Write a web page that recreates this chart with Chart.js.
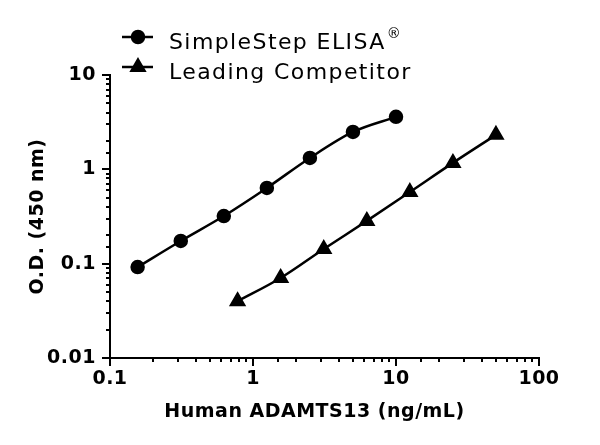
<!DOCTYPE html>
<html>
<head>
<meta charset="utf-8">
<script src="https://cdn.jsdelivr.net/npm/chart.js@4"></script>
<style>
html,body{margin:0;padding:0;background:#fff;}
#wrap{position:relative;width:600px;height:445px;}
</style>
</head>
<body>
<div id="wrap"><canvas id="c" width="600" height="445"></canvas></div>
<script>
// Data
const concSimpleStep = [0.156, 0.3125, 0.625, 1.25, 2.5, 5, 10];
const odSimpleStep   = [0.092, 0.174, 0.32, 0.635, 1.32, 2.49, 3.6];
const concCompetitor = [0.78, 1.56, 3.125, 6.25, 12.5, 25, 50];
const odCompetitor   = [0.040, 0.0705, 0.143, 0.284, 0.575, 1.17, 2.32];
const xTickLabels = ['0.1', '1', '10', '100'];
const yTickLabels = ['0.01', '0.1', '1', '10'];
const seriesNames = ['SimpleStep ELISA\u00AE', 'Leading Competitor'];
const xTitle = 'Human ADAMTS13 (ng/mL)';
const yTitle = 'O.D. (450 nm)';

const FONT = '"DejaVu Sans", sans-serif';

function toPoints(xs, ys){ return xs.map((x,i)=>({x:x, y:ys[i]})); }
function isMajor(v){ const l = Math.log10(v); return Math.abs(l - Math.round(l)) < 1e-6; }
function labelFor(list, v){
  const s = list.find(t => Math.abs(parseFloat(t) - v) < 1e-9 * Math.max(1, v));
  return s === undefined ? '' : s;
}

const spacingPlugin = {
  id: 'spacingPlugin',
  beforeDraw(chart){ chart.ctx.letterSpacing = '0.5px'; },
  afterDraw(chart){ chart.ctx.letterSpacing = '0px'; }
};

const axesPlugin = {
  id: 'axesPlugin',
  afterDraw(chart){
    const ctx = chart.ctx;
    const xs = chart.scales.x, ys = chart.scales.y;
    const ca = chart.chartArea;
    ctx.save();
    ctx.strokeStyle = '#000';
    ctx.lineWidth = 2;
    ctx.lineCap = 'butt';
    ctx.beginPath();
    ctx.moveTo(ca.left, ca.top - 1);
    ctx.lineTo(ca.left, ca.bottom);
    ctx.moveTo(ca.left, ca.bottom);
    ctx.lineTo(ca.right + 1, ca.bottom);
    ctx.stroke();
    ctx.beginPath();
    xs.ticks.forEach(t => {
      const px = Math.round(xs.getPixelForValue(t.value));
      const len = isMajor(t.value) ? 8 : 4;
      ctx.moveTo(px, ca.bottom);
      ctx.lineTo(px, ca.bottom + len);
    });
    ys.ticks.forEach(t => {
      const py = Math.round(ys.getPixelForValue(t.value));
      const len = isMajor(t.value) ? 8 : 4;
      ctx.moveTo(ca.left, py);
      ctx.lineTo(ca.left - len, py);
    });
    ctx.stroke();

    // x axis title (slightly left of the plot centre, as in the reference)
    ctx.fillStyle = '#000';
    ctx.letterSpacing = '0.5px';
    ctx.font = 'bold 19px ' + FONT;
    ctx.textAlign = 'center';
    ctx.textBaseline = 'middle';
    ctx.fillText(xTitle, (ca.left + ca.right) / 2 - 10, 412);

    // legend
    const ds = chart.data.datasets;
    const rowsY = [37, 67];
    ds.forEach((d, i) => {
      const y = rowsY[i];
      ctx.beginPath();
      ctx.lineWidth = 2.5;
      ctx.moveTo(122, y);
      ctx.lineTo(153, y);
      ctx.stroke();
      Chart.helpers.drawPoint(ctx, {pointStyle: d.pointStyle, radius: d.pointRadius, borderWidth: 1, rotation: 0}, 138, y);
      ctx.fillStyle = '#000';
      ctx.fill();
      ctx.letterSpacing = '1.4px';
      ctx.font = '22px ' + FONT;
      ctx.textBaseline = 'alphabetic';
      ctx.textAlign = 'left';
      const name = d.label;
      if (name.endsWith('\u00AE')) {
        const base = name.slice(0, -1);
        ctx.fillText(base, 169, y + 12);
        const w = ctx.measureText(base).width;
        ctx.font = '14px ' + FONT;
        ctx.letterSpacing = '0px';
        ctx.fillText('\u00AE', 169 + w + 1, y + 1);
      } else {
        ctx.fillText(name, 169, y + 12);
      }
      ctx.letterSpacing = '0px';
    });
    ctx.restore();
  }
};

const chart = new Chart(document.getElementById('c'), {
  type: 'scatter',
  data: {
    datasets: [
      {
        label: seriesNames[0],
        data: toPoints(concSimpleStep, odSimpleStep),
        showLine: true,
        borderColor: '#000',
        backgroundColor: '#000',
        borderWidth: 2.5,
        pointStyle: 'circle',
        pointRadius: 6,
        pointHoverRadius: 6,
        tension: 0.4,
        cubicInterpolationMode: 'monotone'
      },
      {
        label: seriesNames[1],
        data: toPoints(concCompetitor, odCompetitor),
        showLine: true,
        borderColor: '#000',
        backgroundColor: '#000',
        borderWidth: 2.5,
        pointStyle: 'triangle',
        pointRadius: 7.5,
        pointHoverRadius: 7.5,
        tension: 0.4,
        cubicInterpolationMode: 'monotone'
      }
    ]
  },
  options: {
    responsive: false,
    animation: false,
    devicePixelRatio: 1,
    layout: { padding: { left: 0, top: 75, right: 61, bottom: 0 } },
    plugins: { legend: { display: false }, tooltip: { enabled: false } },
    scales: {
      x: {
        type: 'logarithmic',
        min: 0.1, max: 100,
        grid: { display: false, drawTicks: false, tickLength: 0 },
        border: { display: false },
        afterFit(scale){ scale.height = 87; },
        ticks: {
          autoSkip: false,
          maxRotation: 0,
          padding: 10,
          color: '#000',
          font: { family: FONT, size: 19, weight: 'bold' },
          callback: (v) => labelFor(xTickLabels, v)
        },
        title: { display: false, text: xTitle }
      },
      y: {
        type: 'logarithmic',
        min: 0.01, max: 10,
        grid: { display: false, drawTicks: false, tickLength: 0 },
        border: { display: false },
        afterFit(scale){ scale.width = 110; },
        ticks: {
          autoSkip: false,
          padding: 14,
          color: '#000',
          font: { family: FONT, size: 19, weight: 'bold' },
          callback: (v) => labelFor(yTickLabels, v)
        },
        title: {
          display: true, text: yTitle, color: '#000',
          font: { family: FONT, size: 19, weight: 'bold' },
          padding: { top: 27, bottom: 0 }
        }
      }
    }
  },
  plugins: [spacingPlugin, axesPlugin]
});
</script>
</body>
</html>
